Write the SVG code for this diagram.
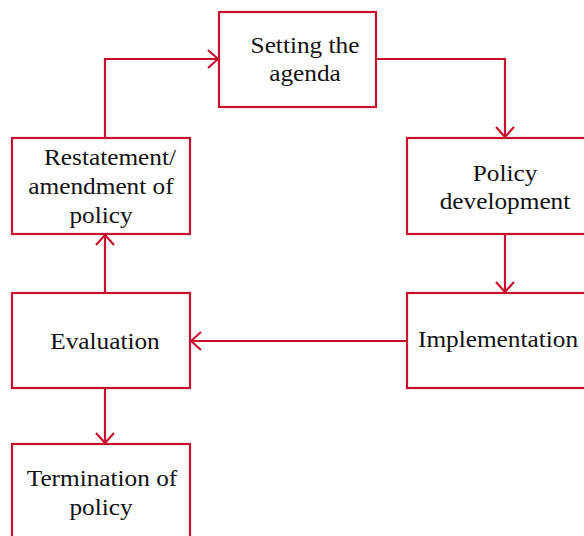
<svg xmlns="http://www.w3.org/2000/svg" width="584" height="536" viewBox="0 0 584 536">
<style>
.box{fill:#fff;stroke:#c8102e;stroke-width:2.2}
.edge{fill:none;stroke:#c8102e;stroke-width:2.2}
.lbl{font-family:'Liberation Serif',serif;font-size:23px;fill:#111;text-anchor:middle}
</style>
<defs>
<marker id="arr" viewBox="0 0 12 20" refX="11" refY="10" markerWidth="12" markerHeight="20" markerUnits="userSpaceOnUse" orient="auto">
<path d="M1,1 L11,10 L1,19" fill="none" stroke="#c8102e" stroke-width="2.2"/>
</marker>
</defs>
<g id="connectors">
<path class="edge" d="M105,138 V59 H218" marker-end="url(#arr)"/>
<path class="edge" d="M376,59 H505 V137" marker-end="url(#arr)"/>
<path class="edge" d="M505,234 V292" marker-end="url(#arr)"/>
<path class="edge" d="M407,341 H191" marker-end="url(#arr)"/>
<path class="edge" d="M105,293 V235" marker-end="url(#arr)"/>
<path class="edge" d="M105,388 V443" marker-end="url(#arr)"/>
</g>
<g id="setting">
<rect class="box" x="219" y="12" width="157" height="95"/>
<text class="lbl" transform="translate(305,53) scale(1.1,1)">Setting the</text>
<text class="lbl" transform="translate(305,81) scale(1.1,1)">agenda</text>
</g>
<g id="development">
<rect class="box" x="407" y="138" width="190" height="96"/>
<text class="lbl" transform="translate(505,181) scale(1.1,1)">Policy</text>
<text class="lbl" transform="translate(505,209) scale(1.1,1)">development</text>
</g>
<g id="implementation">
<rect class="box" x="407" y="293" width="190" height="95"/>
<text class="lbl" transform="translate(418,347) scale(1.1,1)" style="text-anchor:start">Implementation</text>
</g>
<g id="evaluation">
<rect class="box" x="12" y="293" width="178" height="95"/>
<text class="lbl" transform="translate(105,349) scale(1.1,1)">Evaluation</text>
</g>
<g id="restatement">
<rect class="box" x="12" y="138" width="178" height="96"/>
<text class="lbl" transform="translate(110,165) scale(1.1,1)">Restatement/</text>
<text class="lbl" transform="translate(101,194) scale(1.1,1)">amendment of</text>
<text class="lbl" transform="translate(101,223) scale(1.1,1)">policy</text>
</g>
<g id="termination">
<rect class="box" x="12" y="444" width="178" height="110"/>
<text class="lbl" transform="translate(102,486) scale(1.1,1)">Termination of</text>
<text class="lbl" transform="translate(101,515) scale(1.1,1)">policy</text>
</g>
</svg>
